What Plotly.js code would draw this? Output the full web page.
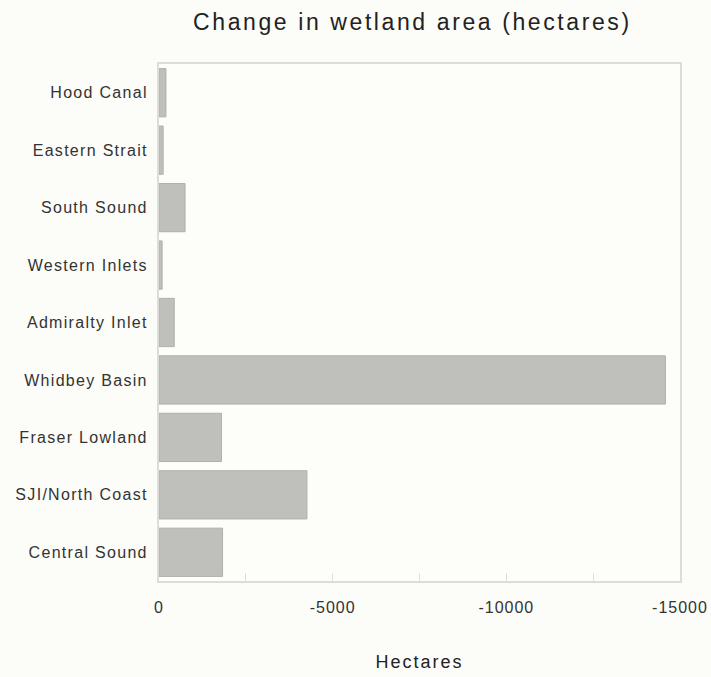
<!DOCTYPE html>
<html>
<head>
<meta charset="utf-8">
<script src="https://cdn.plot.ly/plotly-3.0.1.min.js"></script>
<style>
html,body{margin:0;padding:0;background:#fcfcf8;}
#chart .gtitle{letter-spacing:2.6px;}
#chart .xtitle{letter-spacing:2px;}
#chart .xtick text{letter-spacing:1px;}
#chart .ytick text{letter-spacing:1.3px;}
</style>
</head>
<body>
<div id="chart" style="width:711px;height:677px;"></div>
<script>
const regions = ["Hood Canal", "Eastern Strait", "South Sound", "Western Inlets", "Admiralty Inlet", "Whidbey Basin", "Fraser Lowland", "SJI/North Coast", "Central Sound"];
const changeHectares = [-200, -120, -750, -90, -440, -14580, -1800, -4260, -1830];
const tickValues = [0, -5000, -10000, -15000];
const tickLabels = ["0", "-5000", "-10000", "-15000"];

Plotly.newPlot("chart", [{
  type: "bar",
  orientation: "h",
  y: regions,
  x: changeHectares,
  marker: {color: "#bfbfbb", line: {color: "#b0b0ac", width: 1}},
  width: 0.84,
  hoverinfo: "none"
}], {
  width: 711, height: 677,
  margin: {l: 159, r: 31, t: 64, b: 96},
  paper_bgcolor: "#fcfcf8",
  plot_bgcolor: "#fdfdf9",
  font: {family: "Liberation Sans, Arial, sans-serif", color: "#333", size: 16},
  title: {text: "Change in wetland area (hectares)", font: {size: 23, color: "#222"}, x: 0.58, xanchor: "center", y: 0.967, yanchor: "middle"},
  xaxis: {
    range: [0, -15000], autorange: false,
    tickvals: tickValues, ticktext: tickLabels,
    ticks: "inside", ticklen: 8, tickcolor: "#e0e0dc",
    minor: {dtick: 2500, tick0: 0, ticks: "inside", ticklen: 8, tickcolor: "#e0e0dc"},
    showgrid: false, zeroline: false,
    showline: true, linecolor: "#dcdcd8", linewidth: 2, mirror: true,
    tickfont: {size: 16, color: "#333"},
    ticklabelstandoff: 11,
    title: {text: "Hectares", font: {size: 18, color: "#222"}, standoff: 40}
  },
  yaxis: {
    autorange: "reversed",
    ticks: "", showgrid: false, zeroline: false,
    showline: true, linecolor: "#dcdcd8", linewidth: 2, mirror: true,
    tickfont: {size: 16, color: "#333"},
    ticklabelstandoff: 6
  },
  showlegend: false
}, {staticPlot: true});
</script>
</body>
</html>
